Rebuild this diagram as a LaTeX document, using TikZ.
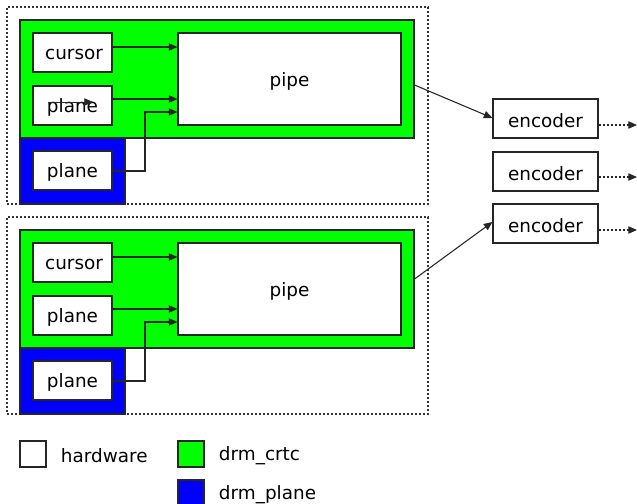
\documentclass[tikz,border=0pt]{standalone}
\usepackage{fontspec}
\setmainfont{DejaVu Sans}
\usetikzlibrary{arrows.meta,fit}
\definecolor{crtcgreen}{RGB}{0,255,0}
\definecolor{planeblue}{RGB}{0,0,255}
\begin{document}
\begin{tikzpicture}[x=0.75pt,y=-0.75pt,
  font=\fontsize{13.8pt}{16pt}\selectfont,
  line width=0.8pt,
  box/.style={draw=black!85,fill=white,inner sep=0pt},
  crtc/.style={draw=black!85,fill=crtcgreen,inner sep=0pt},
  planebg/.style={draw=black!85,fill=planeblue,inner sep=0pt},
  group/.style={draw=black!80,dash pattern=on 1.5pt off 1.5pt,inner sep=0pt},
  lbl/.style={yshift=-1.6pt},
  arr/.style={draw=black!85,-{Triangle[length=6.5pt,width=5.5pt]}},
  darr/.style={arr,dash pattern=on 1.5pt off 1.5pt},
  key/.style={lbl,anchor=west}]
\useasboundingbox (0,0) rectangle (637,504);

% two display pipelines, one below the other
\foreach \g/\dy in {a/0,b/210}{
  \begin{scope}[yshift=-\dy*0.75pt]
    \node[group,fit={(7,7) (428,204)}] (grp\g) {};
    \node[crtc,fit={(20,20) (414,138)}] (crtc\g) {};
    \node[planebg,fit={(20,138) (125,204)}] (pl\g) {};
    \node[box,fit={(33,33) (112,72)}] (cursor\g) {};
    \node[lbl] at (cursor\g.center) {\,cursor};
    \node[box,fit={(33,86) (112,125)}] (plane\g) {};
    \node[lbl] at (plane\g.center) {plane};
    \node[box,fit={(33,151) (112,190)}] (oplane\g) {};
    \node[lbl] at (oplane\g.center) {plane};
    \node[box,fit={(178,33) (401,125)}] (pipe\g) {};
    \node[lbl] at (pipe\g.center) {pipe};
    \draw[arr] (cursor\g.east |- 0,47) -- (pipe\g.west |- 0,47);
    \draw[arr] (plane\g.east |- 0,99) -- (pipe\g.west |- 0,99);
    \draw[arr] (oplane\g.east |- 0,171) -- (145,171) -- (145,112) -- (pipe\g.west |- 0,112);
  \end{scope}
}

% encoders
\node[box,fit={(493,99) (598,138)}] (enc1) {};
\node[lbl] at (enc1.center) {encoder};
\node[box,fit={(493,152) (598,191)}] (enc2) {};
\node[lbl] at (enc2.center) {encoder};
\node[box,fit={(493,204) (598,243)}] (enc3) {};
\node[lbl] at (enc3.center) {encoder};

\coordinate (out1) at (637,125);
\coordinate (out2) at (637,177);
\coordinate (out3) at (637,230);
\draw[darr] (enc1.east |- out1) -- (out1);
\draw[darr] (enc2.east |- out2) -- (out2);
\draw[darr] (enc3.east |- out3) -- (out3);

\draw[arr] (crtca.east |- 0,85) -- (enc1.west |- 0,118);
\draw[arr] (crtcb.east |- 0,279) -- (enc3.west |- 0,222);

% stray connector across the first plane label
\coordinate (sa) at (48,102);
\coordinate (sb) at (93,102);
\draw[arr,line width=0.6pt] (sa) -- (sb);

% legend
\node[box,fit={(20,441) (46,467)}] (khw) {};
\node[key] at (56,454) {hardware};
\node[crtc,fit={(178,441) (204,467)}] (kcrtc) {};
\node[key] at (214,454) {drm\_crtc};
\node[planebg,fit={(178,480) (204,506)}] (kplane) {};
\node[key] at (214,493) {drm\_plane};
\end{tikzpicture}
\end{document}
